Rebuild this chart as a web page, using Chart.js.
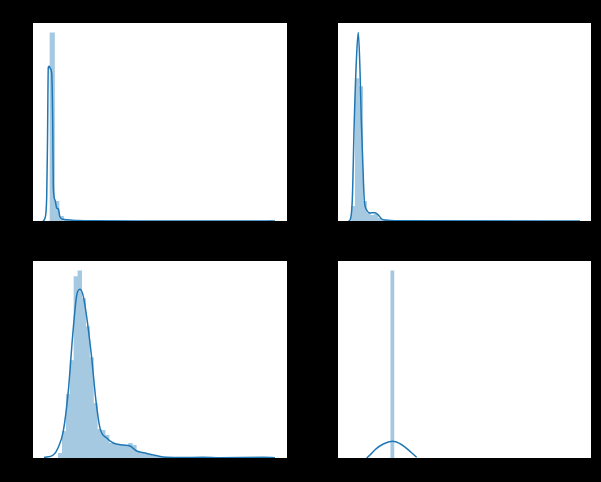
<!DOCTYPE html>
<html>
<head>
<meta charset="utf-8">
<script src="https://cdn.jsdelivr.net/npm/chart.js@4"></script>
<style>
  body { margin: 0; background: #000; width: 601px; height: 482px; overflow: hidden; }
  canvas { position: absolute; background: #fff; }
</style>
</head>
<body>
<canvas id="dist1" width="254" height="198" style="left:33px;top:23px"></canvas>
<canvas id="dist2" width="253" height="198" style="left:338px;top:23px"></canvas>
<canvas id="dist3" width="254" height="197" style="left:33px;top:261px"></canvas>
<canvas id="dist4" width="253" height="197" style="left:338px;top:261px"></canvas>
<script>
    // histogram bins (centers) and heights, density in arbitrary units
    var bins1 = [9.25, 13.75, 18.25, 22.75, 27.25, 31.75, 227.5];
    var hist1 = [189, 20, 5, 2, 1, 0.5, 1];
    var kdeX1 = [0, 2, 3.7, 4.5, 5.3, 6, 7.3, 8.7, 9.7, 10.3, 12, 13.7, 15.3, 17, 20.3, 24, 27, 35, 50, 100, 180, 232];
    var kdeY1 = [0, 3, 24, 80, 154, 155, 153, 148, 100, 34, 21, 13, 12, 4, 1.7, 1.2, 1, 0.5, 0.2, 0.1, 0, 0];

    var bins2 = [5.3, 9.1, 12.9, 16.7, 20.5, 24.3, 28.1, 31.9, 35.7, 39.5];
    var hist2 = [15, 143, 135, 20, 8, 6, 7, 3, 1.5, 1];
    var kdeX2 = [0.3, 2, 4.3, 6.3, 8.7, 10.3, 12, 13.3, 14.8, 16.3, 18.7, 22, 27, 30.3, 33.7, 37, 52, 232];
    var kdeY2 = [0, 1, 21, 101, 168, 189, 151, 101, 58, 21, 11, 8, 8.3, 6, 2, 1, 0.3, 0];

    var bins3 = [17.3, 21.2, 25.1, 29.0, 32.9, 36.8, 40.7, 44.6, 48.5, 52.4, 56.3, 60.2, 64.1, 68.0, 71.9, 75.8, 79.7, 83.6, 87.5, 91.4, 95.3, 99.2, 103.1, 107.0, 110.9, 114.8, 118.7];
    var hist3 = [5, 27, 64, 98, 182, 188, 160, 132, 101, 55, 29, 28, 23, 15, 14, 14, 13, 13, 15, 13, 6, 5, 4, 3, 2, 1.5, 1];
    var kdeX3 = [1, 10.3, 15, 20.3, 25.3, 29.7, 33.7, 37, 40.3, 44.3, 48.7, 53, 57, 63.7, 70.3, 80.3, 87, 93.7, 102, 110.3, 120.3, 137, 160, 177, 220, 232];
    var kdeY3 = [0.5, 3, 10, 27, 67, 123, 163, 169, 162, 137, 100, 57, 30, 20, 15, 13, 12, 7, 5, 3, 1, 0.5, 0.7, 0.3, 0.7, 0.2];

    var bins4 = [41.05, 44.35, 47.65];
    var hist4 = [0, 188, 0];
    var kdeX4 = [18.7, 22, 27, 35.3, 44.3, 53.7, 62, 68.7];
    var kdeY4 = [0, 3, 8.3, 14, 16.7, 13.3, 6.7, 0.7];

    var xRange1 = [-10, 244];
    var xRange2 = [-10, 243];

    function drawDist(id, bins, hist, kdeX, kdeY, xRange) {
        var ctx = document.getElementById(id).getContext('2d');
        var barData = bins.map(function (b, i) { return {x: b, y: hist[i]}; });
        var lineData = kdeX.map(function (v, i) { return {x: v, y: kdeY[i]}; });
        var top = Math.max.apply(null, hist.concat(kdeY)) * 1.05;
        return new Chart(ctx, {
            type: 'bar',
            data: {
                datasets: [
                    {
                        type: 'line',
                        data: lineData,
                        borderColor: '#1f77b4',
                        borderWidth: 1.5,
                        pointRadius: 0,
                        cubicInterpolationMode: 'monotone',
                        fill: false,
                        order: 0
                    },
                    {
                        data: barData,
                        backgroundColor: '#a5c9e1',
                        borderWidth: 0,
                        barPercentage: 1.15,
                        categoryPercentage: 1,
                        grouped: false,
                        order: 1
                    }
                ]
            },
            options: {
                responsive: false,
                animation: false,
                layout: { padding: 0 },
                plugins: {
                    legend: { display: false },
                    tooltip: { enabled: false }
                },
                scales: {
                    x: { type: 'linear', offset: false, min: xRange[0], max: xRange[1], display: false },
                    y: { min: 0, max: top, display: false }
                }
            }
        });
    }

    drawDist('dist1', bins1, hist1, kdeX1, kdeY1, xRange1);
    drawDist('dist2', bins2, hist2, kdeX2, kdeY2, xRange2);
    drawDist('dist3', bins3, hist3, kdeX3, kdeY3, xRange1);
    drawDist('dist4', bins4, hist4, kdeX4, kdeY4, xRange2);
</script>
</body>
</html>
